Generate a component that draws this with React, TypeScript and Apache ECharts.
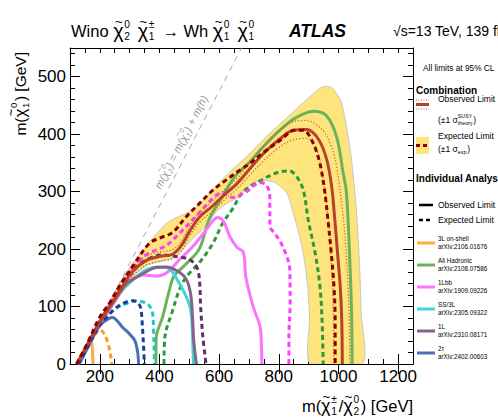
import React, { useEffect, useRef } from 'react';
import * as echarts from 'echarts';

const W = 498;
const H = 419;
const FONT = '"Liberation Sans", Arial, Helvetica, sans-serif';

// axes
const xMin = 100, xMax = 1250, yMin = 0, yMax = 550;
const xMajor = [200, 400, 600, 800, 1000, 1200];
const yMajor = [0, 100, 200, 300, 400, 500];
const yMajorTicks = [100, 200, 300, 400, 500];

// kinematic limit m(chi2) = m(chi1) + m(h)
const kinLimit = [[125, 0], [675, 550]];

// Combination expected +-1 sigma band
const bandUpper = [[140, 12], [200, 76], [254, 129], [310, 175], [366, 212], [424, 245], [470, 258], [505, 266], [547, 285], [590, 310], [625, 329], [692, 361], [759, 396], [826, 428], [893, 460], [930, 477], [950, 483], [978, 481], [1008, 458], [1028, 410], [1044, 355], [1060, 268], [1070, 181], [1076, 90], [1080, 0]];
const bandLower = [[140, 6], [200, 64], [254, 108], [310, 152], [360, 172], [422, 181], [462, 190], [500, 212], [547, 236], [592, 266], [625, 279], [670, 292], [703, 311], [737, 319], [782, 317], [826, 298], [849, 262], [866, 230], [882, 193], [897, 135], [903, 80], [906, 0]];

// Combination
const comboObs = [[122, 0], [160, 36], [198, 72], [235, 101], [265, 126], [310, 161], [355, 180], [400, 187], [444, 191], [472, 205], [500, 230], [533, 255], [578, 275], [623, 297], [660, 314], [700, 338], [748, 366], [804, 392], [849, 407], [893, 408], [932, 392], [960, 357], [977, 310], [988, 250], [997, 193], [1006, 135], [1011, 77], [1013, 0]];
const comboExp = [[122, 0], [160, 38], [198, 80], [235, 108], [265, 135], [310, 170], [366, 210], [400, 219], [444, 229], [489, 256], [533, 279], [578, 302], [623, 320], [660, 334], [700, 348], [748, 368], [804, 389], [854, 407], [882, 407], [910, 390], [935, 355], [952, 308], [965, 250], [976, 193], [985, 135], [989, 77], [989, 0]];
const theoryUp = [[122, 0], [160, 38], [198, 77], [235, 107], [265, 132], [310, 167], [355, 188], [400, 195], [444, 199], [472, 213], [500, 238], [533, 263], [578, 284], [623, 306], [660, 323], [700, 349], [748, 378], [804, 408], [845, 421], [891, 424], [947, 407], [975, 380], [992, 349], [1015, 262], [1025, 200], [1032, 135], [1036, 77], [1038, 0]];
const theoryDown = [[122, 0], [160, 33], [198, 67], [235, 95], [265, 119], [310, 153], [355, 172], [400, 179], [444, 183], [472, 196], [500, 222], [533, 246], [578, 266], [623, 288], [660, 305], [700, 327], [748, 353], [804, 378], [848, 390], [893, 393], [927, 373], [949, 320], [966, 250], [974, 193], [980, 135], [983, 77], [984, 0]];

// Individual analyses
const hadObs = [[388, 0], [389, 46], [410, 81], [433, 128], [448, 152], [489, 174], [533, 200], [567, 252], [603, 285], [655, 328], [700, 350], [748, 378], [804, 407], [855, 428], [916, 440], [960, 432], [994, 395], [1015, 335], [1027, 297], [1038, 181], [1044, 90], [1046, 0]];
const hadExp = [[415, 0], [418, 46], [444, 93], [466, 128], [489, 151], [533, 176], [578, 209], [611, 244], [645, 270], [681, 300], [748, 322], [800, 334], [835, 336], [860, 326], [882, 303], [899, 250], [922, 193], [938, 135], [945, 77], [949, 0]];
const lbbObs = [[128, 0], [170, 40], [220, 85], [270, 125], [310, 148], [349, 155], [388, 153], [422, 158], [466, 181], [511, 204], [556, 233], [595, 255], [615, 248], [636, 222], [660, 203], [681, 195], [690, 150], [714, 100], [737, 65], [742, 30], [743, 0]];
const lbbExp = [[128, 0], [170, 45], [210, 85], [254, 124], [300, 160], [355, 190], [422, 206], [466, 227], [533, 263], [578, 288], [608, 298], [645, 290], [692, 300], [737, 316], [759, 311], [770, 290], [770, 240], [785, 228], [804, 214], [825, 190], [837, 164], [838, 106], [834, 48], [834, 0]];
const oneLObs = [[131, 0], [170, 40], [210, 81], [250, 112], [288, 139], [344, 157], [388, 168], [422, 169], [466, 160], [491, 146], [505, 120], [511, 80], [515, 40], [524, 0]];
const oneLExp = [[128, 0], [170, 42], [210, 82], [250, 115], [288, 145], [330, 172], [366, 184], [411, 190], [455, 187], [490, 184], [511, 178], [528, 165], [535, 140], [538, 100], [545, 50], [556, 0]];
const ss3lObs = [[128, 0], [170, 40], [198, 71], [230, 98], [265, 123], [310, 146], [355, 164], [400, 169], [433, 166], [458, 148], [489, 118], [505, 93], [511, 46], [514, 0]];
const ss3lExp = [[128, 0], [170, 40], [210, 75], [250, 95], [288, 105], [320, 110], [344, 108], [365, 102], [377, 88], [380, 60], [382, 25], [383, 0]];
const tauObs = [[128, 0], [160, 32], [187, 58], [210, 72], [243, 81], [260, 74], [276, 64], [300, 52], [318, 40], [327, 20], [330, 0]];
const tauExp = [[128, 0], [170, 40], [200, 68], [221, 80], [250, 96], [280, 106], [310, 110], [330, 105], [338, 95], [343, 63], [347, 28], [349, 0]];
const ons3lObs = [[125, 0], [150, 25], [166, 40], [173, 35], [176, 15], [177, 0]];
const ons3lExp = [[128, 0], [160, 32], [185, 52], [200, 60], [215, 52], [228, 35], [236, 15], [240, 0]];

const analysisNames = ['3L on-shell', 'All Hadronic', '1Lbb', 'SS/3L', '1L', '2τ'];
const analysisRefs = ['arXiv:2106.01676', 'arXiv:2108.07586', 'arXiv:1909.09226', 'arXiv:2305.09322', 'arXiv:2310.08171', 'arXiv:2402.00603'];
const analysisColors = ['#ffaa3c', '#6cb25c', '#ff72ff', '#3fd6d6', '#85638c', '#4d6fb6'];
const analysisDark = ['#ff9a1a', '#2c9a3a', '#ff3cff', '#22c4c4', '#5e2f6a', '#1c3c9c'];

const BAND = '#fde47c';
const OBS = '#b5432b';
const EXP = '#8b0000';
const THEO = '#cc5a30';

// ---------- text layout helpers ----------
let ctx: CanvasRenderingContext2D | null = null;
function measure(t: string, fs: number, style = 'normal', weight = 'normal') {
  if (!ctx) ctx = document.createElement('canvas').getContext('2d');
  if (!ctx) return t.length * fs * 0.55;
  ctx.font = `${style} ${weight} ${fs}px ${FONT}`;
  return ctx.measureText(t).width;
}

type Piece = string | { chi?: boolean; sup?: string; sub?: string };

function textGroup(pieces: Piece[], fs: number, fill: string, x: number, y: number, anchor: 'left' | 'right' | 'center', opt: { italic?: boolean; bold?: boolean; chiScale?: number; rotation?: number; gap?: number } = {}) {
  const fontStyle = opt.italic ? 'italic' : 'normal';
  const fontWeight = opt.bold ? 'bold' : 'normal';
  const cs = opt.chiScale ?? 1;
  const gap = opt.gap ?? 0.1;
  const els: any[] = [];
  let cx = 0;
  const mk = (t: string, size: number, px: number, py: number) =>
    els.push({
      type: 'text', x: px, y: py, silent: true,
      style: { text: t, fontSize: size, fontFamily: FONT, fontStyle, fontWeight, fill, align: 'left', verticalAlign: 'middle' },
    });
  for (const p of pieces) {
    if (typeof p === 'string') {
      mk(p, fs, cx, 0);
      cx += measure(p, fs, fontStyle, fontWeight);
      continue;
    }
    if (p.chi) {
      const cf = fs * cs;
      const w = measure('χ', cf, fontStyle, fontWeight);
      mk('χ', cf, cx, fs * 0.02);
      const tf = fs * 0.8;
      const tw = measure('~', tf, fontStyle, fontWeight);
      mk('~', tf, cx + (w - tw) / 2 + (opt.italic ? fs * 0.1 : fs * 0.03), -fs * 0.6);
      cx += w + fs * 0.04;
    }
    const ss = fs * 0.62;
    const w1 = p.sup ? measure(p.sup, ss, fontStyle, fontWeight) : 0;
    const w2 = p.sub ? measure(p.sub, ss, fontStyle, fontWeight) : 0;
    if (p.sup) mk(p.sup, ss, cx + (opt.italic ? fs * 0.06 : 0), -fs * 0.42);
    if (p.sub) mk(p.sub, ss, cx, fs * 0.34);
    cx += Math.max(w1, w2) + fs * gap;
  }
  const shift = anchor === 'left' ? 0 : anchor === 'right' ? -cx : -cx / 2;
  els.forEach((e) => (e.x += shift));
  return { type: 'group', x, y, rotation: opt.rotation ?? 0, children: els, silent: true };
}

function plainText(t: string, x: number, y: number, fs: number, opt: { bold?: boolean; italic?: boolean; color?: string } = {}) {
  return {
    type: 'text', x, y, silent: true,
    style: { text: t, fontSize: fs, fontFamily: FONT, fontWeight: opt.bold ? 'bold' : 'normal', fontStyle: opt.italic ? 'italic' : 'normal', fill: opt.color ?? '#000', align: 'left', verticalAlign: 'middle' },
  };
}

function legLine(x1: number, x2: number, y: number, color: string, width: number, dash?: number[]) {
  return { type: 'line', silent: true, shape: { x1, y1: y, x2, y2: y }, style: { stroke: color, lineWidth: width, lineDash: dash ?? null } };
}

// ---------- series ----------
function lineSeries(data: number[][], color: string, width: number, type: any, z: number) {
  return {
    type: 'line', data, xAxisIndex: 0, yAxisIndex: 0, showSymbol: false, symbol: 'none', smooth: 0.35,
    clip: true, silent: true, z, animation: false,
    lineStyle: { color, width, type, cap: 'butt', join: 'round' },
  };
}

function buildOption() {
  const dash = [5, 3.5];
  const series: any[] = [];
  series.push({
    type: 'custom', xAxisIndex: 0, yAxisIndex: 0, data: [[xMin, yMin]], silent: true, z: 1, clip: true,
    renderItem: (_p: any, api: any) => {
      const pts = [...bandUpper, ...bandLower.slice().reverse()].map((p) => api.coord(p));
      return { type: 'polygon', shape: { points: pts, smooth: 0.25 }, style: { fill: BAND, stroke: '#c6c6c6', lineWidth: 1 } };
    },
  });
  series.push(lineSeries(kinLimit, '#a8a8a8', 1, [6, 5], 2));
  const indiv = [
    [ons3lObs, ons3lExp], [hadObs, hadExp], [lbbObs, lbbExp], [ss3lObs, ss3lExp], [oneLObs, oneLExp], [tauObs, tauExp],
  ];
  indiv.forEach(([obs, exp], i) => {
    series.push(lineSeries(obs, analysisColors[i], 3, 'solid', 3));
    series.push(lineSeries(exp, analysisDark[i], 3, dash, 3));
  });
  series.push(lineSeries(theoryUp, THEO, 1.2, [1.2, 2], 4));
  series.push(lineSeries(theoryDown, THEO, 1.2, [1.2, 2], 4));
  series.push(lineSeries(comboObs, OBS, 3, 'solid', 5));
  series.push(lineSeries(comboExp, EXP, 3, dash, 6));

  const axLine = { show: true, onZero: false, lineStyle: { color: '#000', width: 1 } };
  const noLine = { show: false };
  const label = { fontSize: 17, fontFamily: FONT, color: '#000', formatter: (v: number) => String(v) };

  const xAxis: any[] = [
    { gridIndex: 0, type: 'value', position: 'bottom', min: xMin, max: xMax, interval: 50, axisLine: axLine, splitLine: { show: false },
      axisTick: { show: true, inside: true, length: 5, lineStyle: { color: '#000' } },
      axisLabel: { show: true, margin: 4, customValues: xMajor, ...label } },
    { gridIndex: 0, type: 'value', position: 'top', min: xMin, max: xMax, interval: 50, axisLine: axLine, splitLine: { show: false },
      axisTick: { show: true, inside: true, length: 5, lineStyle: { color: '#000' } }, axisLabel: { show: false } },
    { gridIndex: 1, type: 'value', position: 'bottom', min: xMin, max: xMax, axisLine: noLine, splitLine: { show: false },
      axisTick: { show: true, inside: true, length: 10, customValues: xMajor, lineStyle: { color: '#000' } }, axisLabel: { show: false } },
    { gridIndex: 1, type: 'value', position: 'top', min: xMin, max: xMax, axisLine: noLine, splitLine: { show: false },
      axisTick: { show: true, inside: true, length: 10, customValues: xMajor, lineStyle: { color: '#000' } }, axisLabel: { show: false } },
  ];
  const yAxis: any[] = [
    { gridIndex: 0, type: 'value', position: 'left', min: yMin, max: yMax, interval: 20, axisLine: axLine, splitLine: { show: false },
      axisTick: { show: true, inside: true, length: 5, lineStyle: { color: '#000' } },
      axisLabel: { show: true, margin: 4, customValues: yMajor, ...label } },
    { gridIndex: 0, type: 'value', position: 'right', min: yMin, max: yMax, interval: 20, axisLine: axLine, splitLine: { show: false },
      axisTick: { show: true, inside: true, length: 5, lineStyle: { color: '#000' } }, axisLabel: { show: false } },
    { gridIndex: 1, type: 'value', position: 'left', min: yMin, max: yMax, axisLine: noLine, splitLine: { show: false },
      axisTick: { show: true, inside: true, length: 10, customValues: yMajorTicks, lineStyle: { color: '#000' } }, axisLabel: { show: false } },
    { gridIndex: 1, type: 'value', position: 'right', min: yMin, max: yMax, axisLine: noLine, splitLine: { show: false },
      axisTick: { show: true, inside: true, length: 10, customValues: yMajorTicks, lineStyle: { color: '#000' } }, axisLabel: { show: false } },
  ];

  const gridRect = { left: 70, right: 85, top: 48, bottom: 55, containLabel: false };

  // graphics
  const g: any[] = [];
  // title
  g.push(textGroup(['Wino ', { chi: true, sup: '0', sub: '2' }, ' ', { chi: true, sup: '±', sub: '1' }, ' → Wh ', { chi: true, sup: '0', sub: '1' }, ' ', { chi: true, sup: '0', sub: '1' }], 16.5, '#000', 71, 31, 'left', { chiScale: 1.2, gap: 0.2 }));
  g.push(plainText('ATLAS', 289, 31, 17.5, { bold: true, italic: true }));
  g.push(plainText('√s=13 TeV, 139 fb⁻¹', 393, 31, 14));
  // axis titles
  g.push(textGroup(['m(', { chi: true, sup: '±', sub: '1' }, '/', { chi: true, sup: '0', sub: '2' }, ') [GeV]'], 16.5, '#000', 413, 406, 'right', { chiScale: 1.1 }));
  g.push(textGroup(['m(', { chi: true, sup: '0', sub: '1' }, ') [GeV]'], 15.5, '#000', 20, 52, 'right', { chiScale: 1.1, rotation: Math.PI / 2 }));
  // kinematic label
  g.push(textGroup(['m(', { chi: true, sup: '0', sub: '2' }, ') = m(', { chi: true, sup: '0', sub: '1' }, ') + m(h)'], 11, '#999', 181, 142, 'center', { italic: true, rotation: (62.6 * Math.PI) / 180 }));

  // legend
  g.push(plainText('All limits at 95% CL', 423, 68, 8.3));
  g.push(plainText('Combination', 416, 90, 10, { bold: true }));
  g.push(legLine(416, 429, 100, THEO, 1, [1, 1.5]));
  g.push(legLine(416, 429, 104.5, OBS, 3));
  g.push(legLine(416, 429, 109, THEO, 1, [1, 1.5]));
  g.push(plainText('Observed Limit', 438, 99, 8.5));
  g.push(textGroup(['(±1 σ', { sup: 'SUSY', sub: 'theory' }, ')'], 8.5, '#000', 438, 120, 'left'));
  g.push({ type: 'rect', silent: true, shape: { x: 416, y: 137, width: 13, height: 17 }, style: { fill: BAND } });
  g.push(legLine(416, 429, 145.5, EXP, 3, [4, 3]));
  g.push(plainText('Expected Limit', 438, 136, 8.5));
  g.push(textGroup(['(±1 σ', { sub: 'exp' }, ')'], 8.5, '#000', 438, 149, 'left'));
  g.push(plainText('Individual Analyses', 416, 178, 10, { bold: true }));
  g.push(legLine(419, 433, 205, '#000', 2.5));
  g.push(plainText('Observed Limit', 438, 205, 8.5));
  g.push(legLine(419, 433, 220, '#000', 2.5, [4, 3]));
  g.push(plainText('Expected Limit', 438, 220, 8.5));
  analysisNames.forEach((n, i) => {
    const y = 243 + i * 22;
    g.push(legLine(417, 435, y, analysisColors[i], 3));
    g.push(plainText(n, 438, y - 4.3, 6.3));
    g.push(plainText(analysisRefs[i], 438, y + 3.6, 6.3));
  });

  return {
    animation: false,
    backgroundColor: '#fff',
    grid: [gridRect, gridRect],
    xAxis,
    yAxis,
    series,
    graphic: g,
  };
}

export default function App() {
  const ref = useRef<HTMLDivElement>(null);
  useEffect(() => {
    document.body.style.margin = '0';
    const chart = echarts.init(ref.current!, undefined, { renderer: 'svg', width: W, height: H });
    chart.setOption(buildOption() as any);
    return () => chart.dispose();
  }, []);
  return <div ref={ref} style={{ position: 'absolute', left: 0, top: 0, width: W, height: H, overflow: 'hidden' }} />;
}
